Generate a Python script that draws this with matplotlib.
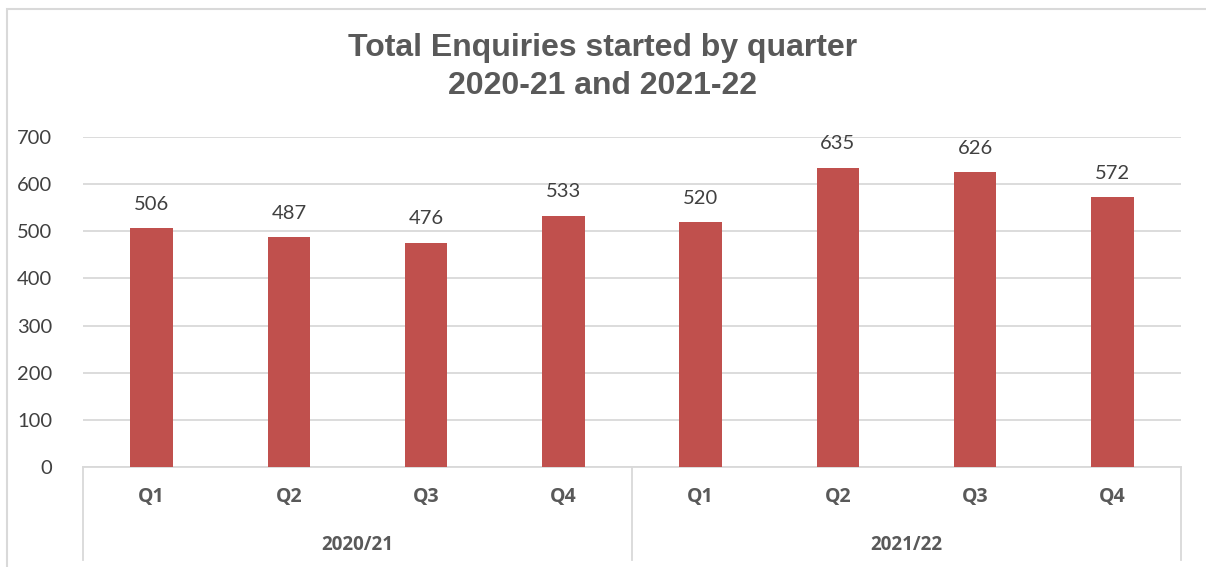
import matplotlib.pyplot as plt
from matplotlib.lines import Line2D
from matplotlib.patches import Rectangle

quarters = ['Q1', 'Q2', 'Q3', 'Q4', 'Q1', 'Q2', 'Q3', 'Q4']
years = ['2020/21', '2021/22']
enquiries = [506, 487, 476, 533, 520, 635, 626, 572]
yticks = [0, 100, 200, 300, 400, 500, 600, 700]

W, H = 1206, 567
bar_color = '#C0504D'
grid_color = '#D9D9D9'
text_color = '#404040'
label_font = ['Lato', 'DejaVu Sans']
bold_font = ['Open Sans', 'DejaVu Sans']

fig = plt.figure(figsize=(W / 100, H / 100), dpi=100)

# chart frame (only top and left edges fall inside the image)
fig.patches.append(Rectangle((7 / W, -0.1), 1.2, (H - 9) / H + 0.1, transform=fig.transFigure,
                             fill=False, edgecolor=grid_color, linewidth=1.5))

ax = fig.add_axes([83 / W, 100 / H, 1098 / W, 330 / H])
x = list(range(len(enquiries)))
bars = ax.bar(x, enquiries, width=0.31, color=bar_color, zorder=3)
for xi, v in zip(x, enquiries):
    ax.annotate(str(v), (xi, v), xytext=(0, 11), textcoords='offset points',
                ha='center', va='bottom', fontsize=14.5, color=text_color, family=label_font)

ax.set_xlim(-0.5, len(enquiries) - 0.5)
ax.set_ylim(0, 700)
ax.set_yticks(yticks)
ax.set_yticklabels([str(t) for t in yticks], fontsize=14.5, color=text_color, family=label_font)
ax.tick_params(axis='y', length=0, pad=22)
ax.set_xticks([])
ax.grid(axis='y', color=grid_color, linewidth=1.3, zorder=0)
for s in ax.spines.values():
    s.set_visible(False)

# two-level category axis
trans = ax.get_xaxis_transform()
depth = -93 / 330
ax.add_line(Line2D([-0.5, 7.5], [0, 0], transform=trans, color=grid_color, lw=1.3, clip_on=False))
for xs in [-0.5, 3.5, 7.5]:
    ax.add_line(Line2D([xs, xs], [0, depth], transform=trans, color=grid_color, lw=1.3, clip_on=False))
for xi, q in zip(x, quarters):
    ax.text(xi, -30 / 330, q, transform=trans, ha='center', va='center', fontsize=14,
            fontweight='bold', color='#595959', family=bold_font)
for i, yr in enumerate(years):
    ax.text(1.5 + 4 * i, -78 / 330, yr, transform=trans, ha='center', va='center', fontsize=13.5,
            fontweight='bold', color='#595959', family=bold_font)

fig.text(0.5, 1 - 48 / H, 'Total Enquiries started by quarter', ha='center', va='center',
         fontsize=23, fontweight='bold', color='#595959', family='Liberation Sans')
fig.text(0.5, 1 - 86 / H, '2020-21 and 2021-22', ha='center', va='center',
         fontsize=23, fontweight='bold', color='#595959', family='Liberation Sans')

fig.savefig('out.png', dpi=100)
